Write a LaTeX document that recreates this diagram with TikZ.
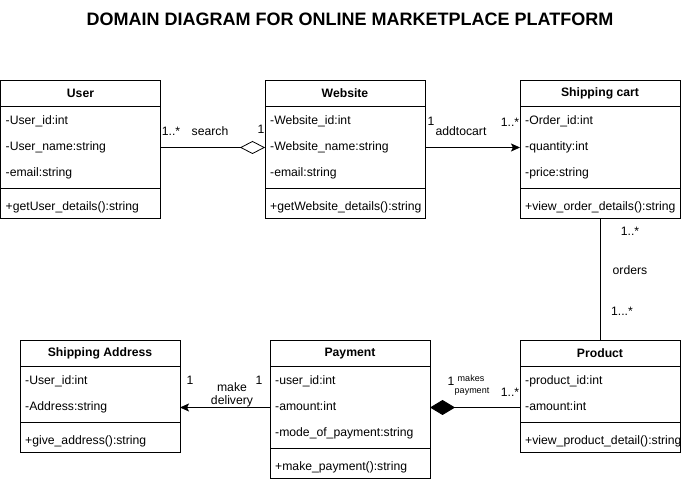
\documentclass[tikz,border=0pt,12pt]{standalone}
\usepackage{fontspec}
\setmainfont{Liberation Sans}
\usetikzlibrary{arrows.meta, calc, positioning}

\tikzset{
    every node/.append style={font=\fontsize{12.2}{15}\selectfont},
    classname/.style={draw, line width=0.8pt, minimum width=160pt, minimum height=26pt, inner sep=0pt, outer sep=0pt, font=\fontsize{12.2}{15}\selectfont\bfseries},
    section/.style={draw, line width=0.8pt, minimum width=160pt, inner sep=0pt, outer sep=0pt},
    member/.style={anchor=west, inner sep=0pt, text height=9pt, text depth=3pt},
    mult/.style={inner sep=0pt, text height=9pt, text depth=3pt},
    assoc/.style={line width=0.8pt},
}

\begin{document}
\begin{tikzpicture}[x=1pt, y=-1pt]

    \useasboundingbox (0,0) rectangle (681,481);

    \node[font=\fontsize{18}{21}\selectfont\bfseries] (title) at (350,19) {DOMAIN DIAGRAM FOR ONLINE MARKETPLACE PLATFORM};

    % User class
    \node[classname] (user) at (80.5,93.5) {User};
    \node[section, minimum height=82pt, below=0pt of user] (user-attr) {};
    \node[section, minimum height=30pt, below=0pt of user-attr] (user-ops) {};
    \node[member] (user-a1) at ($(user-attr.north west)+(5,15)$) {-User\_id:int};
    \node[member] (user-a2) at ($(user-attr.north west)+(5,41)$) {-User\_name:string};
    \node[member] (user-a3) at ($(user-attr.north west)+(5,67)$) {-email:string};
    \node[member] (user-o1) at ($(user-ops.north west)+(5,19)$) {+getUser\_details():string};

    % Website class
    \node[classname] (site) at (345,93.5) {Website};
    \node[section, minimum height=82pt, below=0pt of site] (site-attr) {};
    \node[section, minimum height=30pt, below=0pt of site-attr] (site-ops) {};
    \node[member] (site-a1) at ($(site-attr.north west)+(5,15)$) {-Website\_id:int};
    \node[member] (site-a2) at ($(site-attr.north west)+(5,41)$) {-Website\_name:string};
    \node[member] (site-a3) at ($(site-attr.north west)+(5,67)$) {-email:string};
    \node[member] (site-o1) at ($(site-ops.north west)+(5,19)$) {+getWebsite\_details():string};

    % Shipping cart class
    \node[classname] (cart) at (600,93.5) {Shipping cart};
    \node[section, minimum height=82pt, below=0pt of cart] (cart-attr) {};
    \node[section, minimum height=30pt, below=0pt of cart-attr] (cart-ops) {};
    \node[member] (cart-a1) at ($(cart-attr.north west)+(5,15)$) {-Order\_id:int};
    \node[member] (cart-a2) at ($(cart-attr.north west)+(5,41)$) {-quantity:int};
    \node[member] (cart-a3) at ($(cart-attr.north west)+(5,67)$) {-price:string};
    \node[member] (cart-o1) at ($(cart-ops.north west)+(5,19)$) {+view\_order\_details():string};

    % Shipping Address class
    \node[classname] (addr) at (100,353.5) {Shipping Address};
    \node[section, minimum height=56pt, below=0pt of addr] (addr-attr) {};
    \node[section, minimum height=30pt, below=0pt of addr-attr] (addr-ops) {};
    \node[member] (addr-a1) at ($(addr-attr.north west)+(5,15)$) {-User\_id:int};
    \node[member] (addr-a2) at ($(addr-attr.north west)+(5,41)$) {-Address:string};
    \node[member] (addr-o1) at ($(addr-ops.north west)+(5,19)$) {+give\_address():string};

    % Payment class
    \node[classname] (pay) at (350,353.5) {Payment};
    \node[section, minimum height=82pt, below=0pt of pay] (pay-attr) {};
    \node[section, minimum height=30pt, below=0pt of pay-attr] (pay-ops) {};
    \node[member] (pay-a1) at ($(pay-attr.north west)+(5,15)$) {-user\_id:int};
    \node[member] (pay-a2) at ($(pay-attr.north west)+(5,41)$) {-amount:int};
    \node[member] (pay-a3) at ($(pay-attr.north west)+(5,67)$) {-mode\_of\_payment:string};
    \node[member] (pay-o1) at ($(pay-ops.north west)+(5,19)$) {+make\_payment():string};

    % Product class
    \node[classname] (prod) at (600,353.5) {Product};
    \node[section, minimum height=56pt, below=0pt of prod] (prod-attr) {};
    \node[section, minimum height=30pt, below=0pt of prod-attr] (prod-ops) {};
    \node[member] (prod-a1) at ($(prod-attr.north west)+(5,15)$) {-product\_id:int};
    \node[member] (prod-a2) at ($(prod-attr.north west)+(5,41)$) {-amount:int};
    \begin{scope}
        \clip (prod-ops.north west) rectangle (prod-ops.south east);
        \node[member] (prod-o1) at ($(prod-ops.north west)+(5,19)$) {+view\_product\_detail():string};
    \end{scope}

    % User -- Website (aggregation)
    \draw[assoc, -{Diamond[open, length=25pt, width=13pt]}] (user-attr.east |- user-a2) -- (site-attr.west |- site-a2);
    \node[mult] (search-m1) at (171,133) {1..*};
    \node[mult] (search) at (210,133) {search};
    \node[mult] (search-m2) at (261,131) {1};

    % Website -> Shipping cart
    \draw[assoc, -{Stealth[length=9pt, width=8pt, inset=2pt]}] (site-attr.east |- site-a2) -- (cart-attr.west |- cart-a2);
    \node[mult] (cart-m1) at (431,123) {1};
    \node[mult] (addtocart) at (461,133) {addtocart};
    \node[mult] (cart-m2) at (510,124) {1..*};

    % Shipping cart -- Product
    \draw[assoc] (cart-ops.south) -- (prod.north);
    \node[mult] (orders-m1) at (630,233) {1..*};
    \node[mult] (orders) at (630,272) {orders};
    \node[mult] (orders-m2) at (622,313) {1...*};

    % Payment -> Shipping Address
    \draw[assoc, -{Stealth[length=9pt, width=8pt, inset=2pt]}] (pay-attr.west |- pay-a2) -- (addr-attr.east |- addr-a2);
    \node[mult] (deliv-m1) at (190,382) {1};
    \node[align=center, inner sep=0pt, font=\fontsize{12.2}{13}\selectfont] (delivery) at (232,395) {make\\delivery};
    \node[mult] (deliv-m2) at (259,382) {1};

    % Product -- Payment (composition)
    \draw[assoc, -{Diamond[length=25pt, width=15pt]}] (prod-attr.west |- prod-a2) -- (pay-attr.east |- pay-a2);
    \node[mult] (paym-m1) at (451,383) {1};
    \node[inner sep=0pt, font=\fontsize{9}{10}\selectfont] (makes) at (471,378) {makes};
    \node[inner sep=0pt, font=\fontsize{9}{10}\selectfont] (payment) at (472,392) {payment};
    \node[mult] (paym-m2) at (510,393) {1..*};

\end{tikzpicture}
\end{document}
